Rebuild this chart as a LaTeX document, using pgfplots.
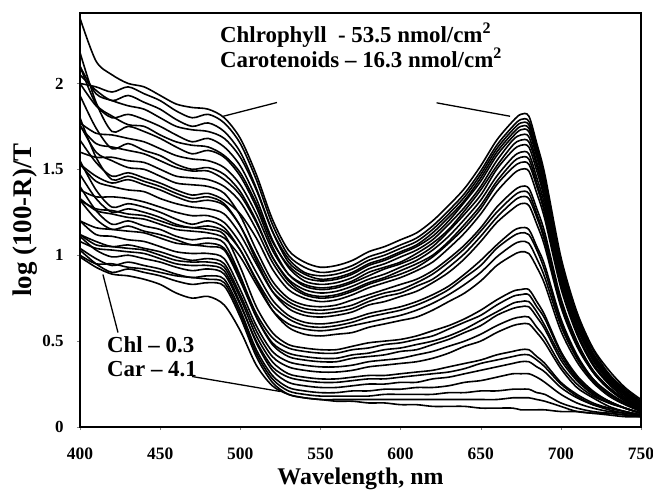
\documentclass[border=0pt]{standalone}
\usepackage{fontspec}
\setmainfont{Liberation Serif}
\usepackage{pgfplots}
\usepackage{pgfplotstable}
\pgfplotsset{compat=1.18}
\newcommand{\annot}{\bfseries\fontsize{23}{27}\selectfont}

\pgfplotstableread{
wl c1 c2 c3 c4 c5 c6 c7 c8 c9 c10 c11 c12 c13 c14 c15 c16 c17 c18 c19 c20 c21 c22 c23 c24 c25 c26 c27 c28 c29 c30 c31 c32 c33
400 2.38 2.00 2.10 2.05 2.10 2.00 1.77 2.18 1.75 1.93 1.60 1.67 1.76 1.53 1.53 1.80 1.38 1.47 1.33 1.55 1.32 1.32 1.20 1.40 1.20 1.12 1.12 1.11 1.08 1.04 1.00 1.03 0.99
410 2.13 1.98 1.94 1.96 1.88 1.87 1.71 1.89 1.65 1.74 1.57 1.54 1.60 1.46 1.43 1.57 1.34 1.33 1.26 1.38 1.27 1.21 1.16 1.26 1.12 1.08 1.06 1.03 1.04 0.98 0.95 0.95 0.93
420 2.05 1.95 1.90 1.90 1.81 1.80 1.70 1.72 1.63 1.62 1.57 1.46 1.55 1.42 1.40 1.44 1.34 1.25 1.24 1.28 1.26 1.15 1.15 1.18 1.11 1.05 1.05 0.99 1.03 0.94 0.95 0.90 0.89
430 2.00 1.98 1.87 1.93 1.76 1.82 1.68 1.75 1.61 1.65 1.55 1.48 1.51 1.44 1.38 1.46 1.33 1.27 1.22 1.30 1.24 1.17 1.14 1.20 1.09 1.06 1.04 1.00 1.02 0.96 0.93 0.92 0.88
440 1.98 1.94 1.85 1.89 1.75 1.79 1.66 1.72 1.59 1.61 1.54 1.45 1.50 1.41 1.37 1.43 1.31 1.25 1.21 1.28 1.23 1.14 1.13 1.17 1.08 1.04 1.03 0.98 1.01 0.94 0.92 0.90 0.86
450 1.93 1.90 1.80 1.85 1.70 1.75 1.62 1.68 1.55 1.58 1.50 1.42 1.46 1.38 1.33 1.40 1.28 1.22 1.18 1.25 1.20 1.12 1.10 1.15 1.05 1.02 1.00 0.96 0.98 0.92 0.90 0.88 0.83
460 1.88 1.84 1.75 1.79 1.66 1.70 1.58 1.63 1.51 1.53 1.46 1.38 1.42 1.34 1.30 1.36 1.25 1.18 1.15 1.21 1.17 1.09 1.07 1.11 1.02 0.99 0.97 0.93 0.95 0.89 0.88 0.85 0.78
470 1.86 1.80 1.73 1.75 1.64 1.66 1.56 1.59 1.49 1.50 1.45 1.35 1.41 1.31 1.28 1.33 1.23 1.16 1.14 1.18 1.16 1.06 1.06 1.09 1.01 0.97 0.96 0.91 0.94 0.87 0.87 0.83 0.75
480 1.85 1.82 1.72 1.77 1.63 1.68 1.55 1.61 1.49 1.51 1.44 1.36 1.40 1.32 1.27 1.34 1.23 1.17 1.13 1.20 1.15 1.07 1.05 1.10 1.01 0.98 0.96 0.92 0.94 0.88 0.86 0.84 0.76
490 1.80 1.77 1.68 1.72 1.58 1.63 1.51 1.57 1.44 1.47 1.40 1.32 1.36 1.29 1.24 1.30 1.19 1.14 1.10 1.16 1.12 1.04 1.03 1.07 0.98 0.95 0.93 0.89 0.91 0.86 0.84 0.82 0.71
500 1.68 1.65 1.57 1.60 1.48 1.52 1.41 1.46 1.35 1.37 1.31 1.24 1.23 1.17 1.12 1.17 1.07 1.03 0.99 1.03 0.93 0.87 0.85 0.88 0.80 0.77 0.75 0.71 0.72 0.68 0.66 0.64 0.56
510 1.47 1.44 1.38 1.39 1.30 1.33 1.24 1.28 1.19 1.20 1.15 1.10 1.03 0.99 0.95 0.97 0.90 0.86 0.83 0.85 0.70 0.66 0.64 0.64 0.59 0.56 0.53 0.50 0.49 0.45 0.43 0.41 0.36
520 1.21 1.18 1.14 1.14 1.08 1.09 1.03 1.05 0.99 0.99 0.96 0.92 0.85 0.82 0.79 0.79 0.74 0.71 0.68 0.68 0.55 0.52 0.49 0.48 0.44 0.41 0.38 0.35 0.33 0.30 0.28 0.26 0.24
530 1.03 1.00 0.98 0.96 0.94 0.93 0.89 0.89 0.86 0.85 0.83 0.80 0.75 0.73 0.71 0.69 0.65 0.63 0.60 0.58 0.48 0.46 0.43 0.41 0.38 0.35 0.31 0.29 0.26 0.23 0.21 0.19 0.19
540 0.96 0.93 0.90 0.89 0.87 0.85 0.83 0.82 0.80 0.78 0.77 0.75 0.71 0.69 0.67 0.65 0.61 0.59 0.57 0.54 0.46 0.44 0.41 0.39 0.36 0.33 0.29 0.27 0.24 0.21 0.19 0.17 0.17
550 0.93 0.90 0.88 0.86 0.85 0.83 0.81 0.80 0.78 0.76 0.75 0.73 0.70 0.68 0.66 0.64 0.60 0.58 0.56 0.53 0.45 0.43 0.40 0.38 0.35 0.32 0.28 0.26 0.23 0.20 0.18 0.16 0.16
560 0.94 0.91 0.89 0.87 0.86 0.84 0.82 0.81 0.79 0.77 0.76 0.74 0.71 0.69 0.67 0.65 0.61 0.59 0.57 0.54 0.45 0.43 0.40 0.38 0.35 0.32 0.28 0.26 0.23 0.20 0.18 0.16 0.15
570 0.97 0.94 0.92 0.90 0.89 0.87 0.85 0.84 0.82 0.80 0.79 0.77 0.74 0.71 0.69 0.67 0.63 0.61 0.59 0.55 0.47 0.45 0.42 0.40 0.36 0.33 0.29 0.27 0.24 0.21 0.18 0.16 0.15
580 1.02 0.99 0.97 0.95 0.94 0.92 0.90 0.88 0.86 0.84 0.83 0.81 0.77 0.75 0.73 0.71 0.66 0.64 0.61 0.58 0.49 0.46 0.43 0.41 0.38 0.35 0.30 0.28 0.25 0.21 0.18 0.16 0.14
590 1.05 1.02 1.00 0.98 0.97 0.95 0.93 0.92 0.89 0.87 0.86 0.84 0.80 0.78 0.76 0.73 0.68 0.66 0.63 0.60 0.50 0.48 0.45 0.42 0.39 0.36 0.30 0.28 0.25 0.22 0.19 0.16 0.14
600 1.09 1.06 1.04 1.02 1.01 0.99 0.96 0.95 0.93 0.91 0.89 0.87 0.83 0.80 0.78 0.76 0.70 0.68 0.65 0.62 0.51 0.49 0.46 0.44 0.40 0.37 0.31 0.29 0.26 0.22 0.19 0.16 0.13
610 1.13 1.10 1.08 1.06 1.05 1.03 1.01 0.99 0.97 0.95 0.93 0.91 0.86 0.84 0.82 0.79 0.73 0.71 0.68 0.64 0.53 0.51 0.48 0.45 0.42 0.38 0.32 0.30 0.26 0.23 0.19 0.16 0.13
620 1.20 1.17 1.15 1.13 1.11 1.09 1.07 1.05 1.03 1.00 0.99 0.96 0.91 0.89 0.86 0.84 0.77 0.75 0.72 0.68 0.56 0.53 0.50 0.48 0.44 0.40 0.33 0.31 0.28 0.23 0.19 0.16 0.12
630 1.29 1.26 1.24 1.22 1.20 1.18 1.15 1.14 1.11 1.08 1.07 1.04 0.98 0.96 0.93 0.90 0.82 0.80 0.77 0.73 0.59 0.57 0.53 0.51 0.47 0.43 0.35 0.32 0.29 0.24 0.20 0.16 0.12
640 1.39 1.36 1.34 1.32 1.31 1.28 1.26 1.24 1.21 1.18 1.16 1.13 1.06 1.04 1.01 0.98 0.89 0.87 0.83 0.78 0.63 0.61 0.57 0.55 0.50 0.47 0.37 0.34 0.31 0.26 0.20 0.16 0.12
650 1.52 1.49 1.47 1.45 1.43 1.40 1.38 1.35 1.32 1.29 1.27 1.24 1.16 1.14 1.11 1.08 0.97 0.94 0.90 0.85 0.68 0.65 0.62 0.59 0.54 0.50 0.39 0.37 0.33 0.27 0.21 0.16 0.11
660 1.67 1.64 1.62 1.60 1.58 1.55 1.52 1.50 1.46 1.43 1.41 1.37 1.28 1.25 1.22 1.19 1.06 1.04 0.99 0.94 0.74 0.71 0.67 0.65 0.59 0.55 0.42 0.39 0.35 0.29 0.21 0.16 0.11
670 1.78 1.75 1.73 1.71 1.69 1.67 1.64 1.61 1.57 1.54 1.51 1.47 1.37 1.34 1.31 1.27 1.14 1.11 1.06 1.00 0.79 0.76 0.72 0.69 0.63 0.59 0.44 0.41 0.37 0.31 0.22 0.17 0.11
675 1.82 1.79 1.77 1.75 1.73 1.70 1.67 1.64 1.60 1.57 1.54 1.50 1.40 1.37 1.34 1.30 1.16 1.13 1.08 1.02 0.80 0.77 0.73 0.70 0.64 0.60 0.45 0.42 0.38 0.31 0.22 0.17 0.10
680 1.81 1.78 1.76 1.74 1.72 1.69 1.66 1.63 1.59 1.56 1.53 1.49 1.39 1.36 1.33 1.29 1.15 1.12 1.07 1.01 0.80 0.77 0.73 0.70 0.64 0.60 0.45 0.42 0.38 0.31 0.22 0.17 0.10
685 1.65 1.63 1.61 1.59 1.57 1.54 1.52 1.49 1.45 1.42 1.40 1.36 1.27 1.24 1.22 1.18 1.05 1.03 0.98 0.93 0.73 0.70 0.67 0.64 0.58 0.55 0.41 0.39 0.35 0.29 0.20 0.16 0.10
690 1.47 1.45 1.43 1.41 1.39 1.37 1.34 1.32 1.29 1.26 1.24 1.21 1.13 1.10 1.08 1.05 0.94 0.91 0.87 0.83 0.65 0.63 0.59 0.57 0.52 0.49 0.37 0.35 0.32 0.26 0.19 0.15 0.10
700 0.99 0.97 0.96 0.95 0.93 0.92 0.90 0.88 0.86 0.84 0.83 0.81 0.75 0.74 0.72 0.70 0.63 0.61 0.59 0.56 0.44 0.43 0.41 0.39 0.36 0.34 0.26 0.25 0.23 0.19 0.14 0.12 0.09
710 0.67 0.66 0.65 0.64 0.63 0.62 0.60 0.59 0.58 0.56 0.55 0.54 0.50 0.49 0.48 0.47 0.42 0.41 0.40 0.38 0.30 0.29 0.28 0.27 0.25 0.23 0.19 0.18 0.17 0.14 0.11 0.09 0.09
720 0.46 0.45 0.43 0.43 0.42 0.41 0.40 0.39 0.39 0.37 0.37 0.36 0.33 0.33 0.32 0.32 0.28 0.28 0.27 0.26 0.21 0.20 0.20 0.19 0.18 0.17 0.14 0.13 0.13 0.11 0.09 0.08 0.08
730 0.33 0.31 0.30 0.30 0.29 0.29 0.28 0.27 0.27 0.26 0.25 0.25 0.23 0.23 0.22 0.22 0.20 0.19 0.19 0.18 0.15 0.15 0.15 0.14 0.14 0.12 0.11 0.11 0.10 0.09 0.08 0.07 0.08
740 0.23 0.22 0.21 0.21 0.20 0.20 0.19 0.19 0.19 0.18 0.17 0.17 0.16 0.16 0.16 0.15 0.14 0.14 0.14 0.13 0.11 0.11 0.11 0.11 0.11 0.09 0.09 0.09 0.08 0.08 0.07 0.06 0.07
750 0.16 0.15 0.14 0.14 0.13 0.13 0.12 0.12 0.12 0.11 0.11 0.11 0.10 0.10 0.10 0.10 0.09 0.09 0.09 0.09 0.08 0.08 0.08 0.08 0.08 0.07 0.07 0.07 0.07 0.07 0.06 0.06 0.07
}\spectra

\begin{document}
\begin{tikzpicture}
\begin{axis}[
  scale only axis, width=561bp, height=414bp,
  at={(0,0)}, anchor=south west,
  xmin=400, xmax=750, ymin=0, ymax=2.41,
  xtick={400,450,500,550,600,650,700,750},
  ytick={0,0.5,1,1.5,2},
  tick pos=left, tick align=outside, major tick length=3bp,
  axis line style={line width=1.5bp},
  /pgf/number format/assume math mode=true,
  yticklabel style={font=\bfseries\fontsize{17}{17}\selectfont, xshift=-10bp},
  xticklabel style={font=\bfseries\fontsize{17.5}{17.5}\selectfont, yshift=-14bp},
  xlabel={Wavelength, nm},
  xlabel style={font=\bfseries\fontsize{24}{24}\selectfont, at={(axis description cs:0.5,-0.140)}, anchor=base},
  ylabel={log (100-R)/T},
  ylabel style={font=\bfseries\fontsize{27}{27}\selectfont, at={(axis description cs:-0.0856,0.5)}, anchor=base, rotate=0},
]
\pgfplotsinvokeforeach{1,...,33}{
  \addplot[black, solid, line width=1.6bp, smooth, no markers] table[x=wl, y=c#1] {\spectra};
}
\draw[line width=1.3bp] (axis cs:522.9,1.889) -- (axis cs:489.4,1.809);
\draw[line width=1.3bp] (axis cs:622.5,1.887) -- (axis cs:668.3,1.809);
\draw[line width=1.3bp] (axis cs:423.7,0.550) -- (axis cs:414.3,0.888);
\draw[line width=1.3bp] (axis cs:469.9,0.294) -- (axis cs:524.8,0.207);
\node[anchor=base west, inner sep=0pt, font=\annot] at (axis cs:487.3,2.238) {Chlrophyll\hspace{0.5em}- 53.5 nmol/cm\textsuperscript{2}};
\node[anchor=base west, inner sep=0pt, font=\annot] at (axis cs:487.3,2.093) {Carotenoids – 16.3 nmol/cm\textsuperscript{2}};
\node[anchor=base west, inner sep=0pt, font=\annot] at (axis cs:416.8,0.434) {Chl – 0.3};
\node[anchor=base west, inner sep=0pt, font=\annot] at (axis cs:416.8,0.294) {Car – 4.1};
\end{axis}
\pgfresetboundingbox
\useasboundingbox (-80bp,-66bp) rectangle (573bp,427bp);
\end{tikzpicture}
\end{document}
